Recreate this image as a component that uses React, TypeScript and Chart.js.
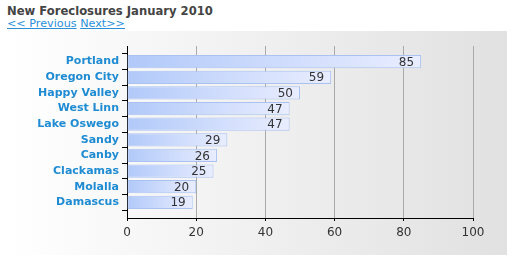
import React, { useEffect, useRef } from "react";
import { Chart, registerables } from "chart.js";

Chart.register(...registerables);

const cities = [
  "Portland",
  "Oregon City",
  "Happy Valley",
  "West Linn",
  "Lake Oswego",
  "Sandy",
  "Canby",
  "Clackamas",
  "Molalla",
  "Damascus",
];
const foreclosures = [85, 59, 50, 47, 47, 29, 26, 25, 20, 19];
const xTicks = [0, 20, 40, 60, 80, 100];

const FONT = "'DejaVu Sans', Verdana, sans-serif";

const valueLabels = {
  id: "valueLabels",
  afterDatasetsDraw(chart: any) {
    const ctx = chart.ctx;
    const meta = chart.getDatasetMeta(0);
    ctx.save();
    ctx.font = `12px ${FONT}`;
    ctx.fillStyle = "#333333";
    ctx.textAlign = "right";
    ctx.textBaseline = "middle";
    meta.data.forEach((el: any, i: number) => {
      const v = chart.data.datasets[0].data[i];
      if (v == null) return;
      ctx.fillText(String(v), el.x - 7, el.y + 1);
    });
    ctx.restore();
  },
};

export default function App() {
  const ref = useRef<HTMLCanvasElement | null>(null);

  useEffect(() => {
    if (!ref.current) return;
    const labels = ["", ...cities, ""];
    const data = [null, ...foreclosures, null];
    const chart = new Chart(ref.current, {
      type: "bar",
      data: {
        labels,
        datasets: [
          {
            data,
            backgroundColor: (c: any) => {
              const ch = c.chart;
              const xs = ch.scales && ch.scales.x;
              const v = c.raw;
              if (!xs || v == null) return "#b4cbf8";
              const x0 = xs.getPixelForValue(0);
              const x1 = xs.getPixelForValue(v);
              if (!isFinite(x0) || !isFinite(x1) || x1 <= x0) return "#b4cbf8";
              const g = ch.ctx.createLinearGradient(x0, 0, x1, 0);
              g.addColorStop(0, "#b1c9f9");
              g.addColorStop(1, "#e9edff");
              return g;
            },
            borderColor: "#a9c2f2",
            borderWidth: 1,
            borderSkipped: false,
            barPercentage: 0.85,
            categoryPercentage: 1,
          },
        ],
      },
      options: {
        indexAxis: "y",
        animation: false,
        responsive: false,
        events: [],
        layout: { padding: { top: 15, right: 34, left: 0, bottom: 0 } },
        plugins: {
          legend: { display: false },
          tooltip: { enabled: false },
          title: { display: false },
        },
        scales: {
          x: {
            min: 0,
            max: 100,
            afterBuildTicks: (s: any) => {
              s.ticks = xTicks.map((v) => ({ value: v }));
            },
            afterFit: (s: any) => {
              s.height = 37;
            },
            grid: {
              color: "#aaaaaa",
              tickColor: "#000000",
              tickLength: 3,
              drawTicks: true,
            },
            border: { color: "#000000", width: 1 },
            ticks: {
              color: "#333333",
              font: { family: FONT, size: 12 },
              padding: 5,
            },
          },
          y: {
            offset: false,
            afterFit: (s: any) => {
              s.width = 119;
            },
            grid: {
              drawOnChartArea: false,
              drawTicks: true,
              tickColor: "#000000",
              tickLength: 5,
            },
            border: { color: "#000000", width: 1 },
            ticks: {
              autoSkip: false,
              color: "#1f8bd2",
              font: { family: FONT, size: 11, weight: "bold" },
              padding: 3,
            },
          },
        },
      },
      plugins: [valueLabels],
    } as any);
    return () => chart.destroy();
  }, []);

  return (
    <div>
      <div
        style={{
          position: "absolute",
          left: 7,
          top: 4,
          fontFamily: FONT,
          fontWeight: "bold",
          fontSize: 11.6,
          lineHeight: "14px",
          color: "#444444",
          whiteSpace: "nowrap",
        }}
      >
        New Foreclosures January 2010
      </div>
      <div
        style={{
          position: "absolute",
          left: 7,
          top: 17,
          fontFamily: FONT,
          fontSize: 11.2,
          lineHeight: "14px",
          color: "#2a8fd8",
          whiteSpace: "nowrap",
        }}
      >
        <a href="#" style={{ color: "#2a8fd8" }}>&lt;&lt; Previous</a>{" "}
        <a href="#" style={{ color: "#2a8fd8" }}>Next&gt;&gt;</a>
      </div>
      <canvas
        ref={ref}
        width={499}
        height={224}
        style={{
          position: "absolute",
          left: 8,
          top: 31,
          width: 499,
          height: 224,
          background: "linear-gradient(to right, #ffffff, #e1e1e1)",
        }}
      />
    </div>
  );
}
